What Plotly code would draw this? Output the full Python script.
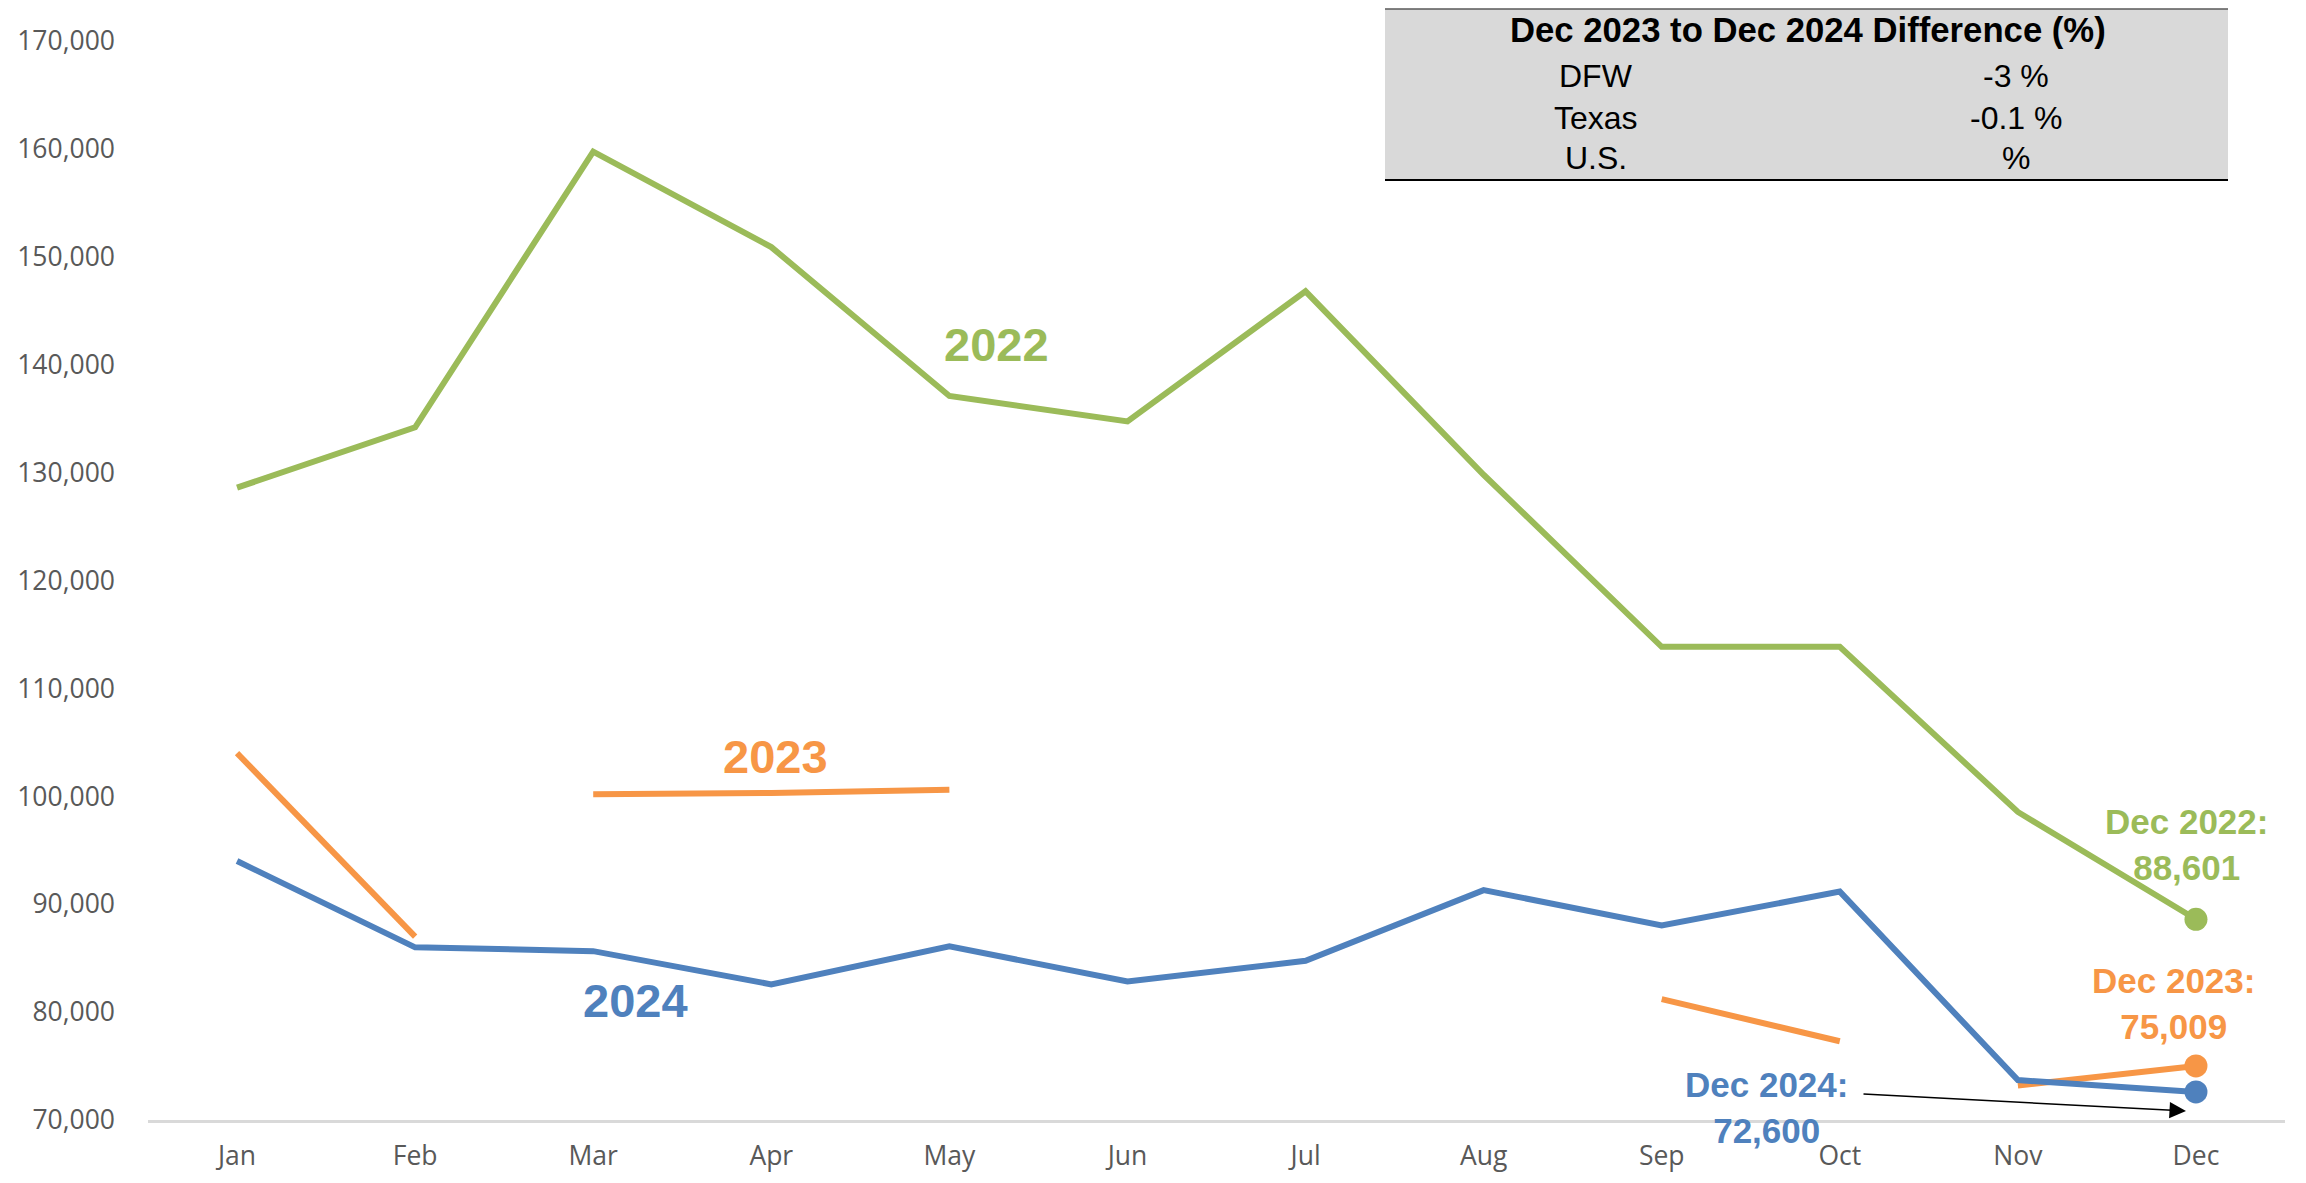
import plotly.graph_objects as go

months = ["Jan", "Feb", "Mar", "Apr", "May", "Jun", "Jul", "Aug", "Sep", "Oct", "Nov", "Dec"]
values_2022 = [128600, 134200, 159750, 150900, 137100, 134750, 146800, 129800, 113850, 113850, 98550, 88601]
values_2023 = [104000, 87000, 100200, 100300, 100600, None, None, None, 81200, 77300, 73200, 75009]
values_2024 = [94000, 86000, 85650, 82570, 86100, 82840, 84750, 91300, 88030, 91170, 73700, 72600]
segments_2023 = [(0, 1), (2, 4), (8, 9), (10, 11)]

table_title = "Dec 2023 to Dec 2024 Difference (%)"
table_regions = ["DFW", "Texas", "U.S."]
table_values = ["-3 %", "-0.1 %", "%"]

GREEN = "#9BBB59"
ORANGE = "#F79646"
BLUE = "#4F81BD"

OFF = 8  # page body margin
W, H = 2306 - 2 * OFF, 1183 - 2 * OFF
# plot area in absolute screen pixels
X0, X1, Y0, Y1 = 148, 2285, 41, 1120
ML, MR, MT, MB = X0 - OFF, (W + OFF) - X1, Y0 - OFF, (H + OFF) - Y1
PW, PH = X1 - X0, Y1 - Y0


def px(x):
    return (x - X0) / PW


def py(y):
    return (Y1 - y) / PH


LW = 6
MS = 23

fig = go.Figure()

fig.add_trace(go.Scatter(
    x=months, y=values_2022, mode="lines+markers",
    line=dict(color=GREEN, width=LW),
    marker=dict(size=[0] * (len(months) - 1) + [MS], color=GREEN, opacity=1, line=dict(width=0)),
    hoverinfo="skip", showlegend=False))

for a, b in segments_2023:
    xs = months[a:b + 1]
    ys = values_2023[a:b + 1]
    sizes = [0] * len(xs)
    if b == len(months) - 1:
        sizes[-1] = MS
    fig.add_trace(go.Scatter(
        x=xs, y=ys, mode="lines+markers",
        line=dict(color=ORANGE, width=LW),
        marker=dict(size=sizes, color=ORANGE, opacity=1, line=dict(width=0)),
        hoverinfo="skip", showlegend=False))

fig.add_trace(go.Scatter(
    x=months, y=values_2024, mode="lines+markers",
    line=dict(color=BLUE, width=LW),
    marker=dict(size=[0] * (len(months) - 1) + [MS], color=BLUE, opacity=1, line=dict(width=0)),
    hoverinfo="skip", showlegend=False))

LABEL_FONT = "Liberation Sans, Arial, sans-serif"
annotations = []


def add_text(text, x, y, color, size, bold=True, xanchor="center"):
    t = f"<b>{text}</b>" if bold else text
    annotations.append(dict(
        text=t, x=px(x), y=py(y), xref="paper", yref="paper",
        xanchor=xanchor, yanchor="middle", showarrow=False,
        font=dict(family=LABEL_FONT, size=size, color=color)))


add_text("2022", 996, 344, GREEN, 47)
add_text("2023", 775, 756, ORANGE, 47)
add_text("2024", 635, 1000, BLUE, 47)

for txt, cx, cy, col in [
    (f"Dec 2022:<br>{values_2022[-1]:,}", 2186, 844, GREEN),
    (f"Dec 2023:<br>{values_2023[-1]:,}", 2173, 1003, ORANGE),
    (f"Dec 2024:<br>{values_2024[-1]:,}", 1766, 1107, BLUE),
]:
    annotations.append(dict(
        text=f"<b>{txt}</b>", x=px(cx), y=py(cy), xref="paper", yref="paper",
        xanchor="center", yanchor="middle", showarrow=False, align="center",
        font=dict(family=LABEL_FONT, size=35, color=col)))

# arrow from Dec 2024 label to the Dec point
annotations.append(dict(
    text="", x=px(2186), y=py(1111), xref="paper", yref="paper",
    ax=1862 - 2186, ay=1094 - 1111, axref="pixel", ayref="pixel",
    showarrow=True, arrowhead=2, arrowsize=2.2, arrowwidth=1.5, arrowcolor="#000000"))

# table
add_text(table_title, 1808, 30, "#000000", 34.7)
row_y = [76, 118, 158]
for r, v, yy in zip(table_regions, table_values, row_y):
    add_text(r, 1596, yy, "#000000", 32, bold=False)
    add_text(v, 2016, yy, "#000000", 32, bold=False)

shapes = [
    dict(type="rect", xref="paper", yref="paper", x0=px(1385), x1=px(2228), y0=py(9), y1=py(180),
         fillcolor="#D9D9D9", line=dict(width=0), layer="below"),
    dict(type="line", xref="paper", yref="paper", x0=px(1385), x1=px(2228), y0=py(9), y1=py(9),
         line=dict(color="#595959", width=1.5)),
    dict(type="line", xref="paper", yref="paper", x0=px(1385), x1=px(2228), y0=py(180), y1=py(180),
         line=dict(color="#000000", width=2)),
]

TICK_FONT = dict(family="Open Sans, sans-serif", size=26.5, color="#595959")

fig.update_layout(
    width=W, height=H,
    margin=dict(l=ML, r=MR, t=MT, b=MB, pad=0),
    plot_bgcolor="white", paper_bgcolor="white",
    annotations=annotations, shapes=shapes,
    xaxis=dict(type="category", range=[-0.5, 11.5], showgrid=False, zeroline=False,
               showline=True, linecolor="#D9D9D9", linewidth=2.5,
               ticks="", tickfont=TICK_FONT, ticklabelstandoff=10, fixedrange=True,
               automargin=False),
    yaxis=dict(range=[70000, 170000], dtick=10000, tickformat=",", showgrid=False,
               zeroline=False, showline=False, ticks="", tickfont=TICK_FONT,
               ticklabelstandoff=32, fixedrange=True, automargin=False),
)

fig.write_html("out.html", config={"displayModeBar": False})
